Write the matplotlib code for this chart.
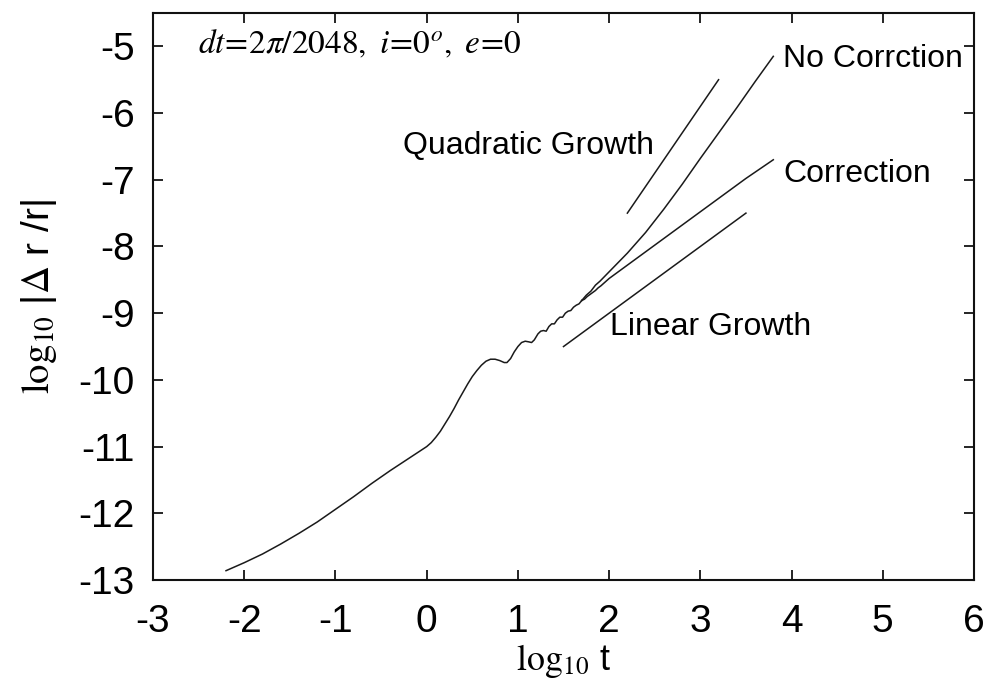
import matplotlib
matplotlib.use("Agg")
import matplotlib.pyplot as plt

# ---- data ----
# shared early part of the error curve (log10 t, log10 |dr/r|)
base_x = [-2.2, -2.0, -1.8, -1.6, -1.4, -1.2, -1.0, -0.8, -0.6, -0.4, -0.2, 0.0,
          0.05, 0.10, 0.15, 0.20, 0.25, 0.30, 0.35, 0.40, 0.45, 0.50, 0.55,
          0.60, 0.65, 0.70, 0.75, 0.80, 0.85, 0.88, 0.92, 0.96, 1.00, 1.04,
          1.08, 1.12, 1.15, 1.18, 1.22, 1.25, 1.28, 1.31, 1.34, 1.37, 1.40,
          1.43, 1.46, 1.49, 1.52, 1.55, 1.58, 1.61, 1.64, 1.67, 1.70]
base_y = [-12.86, -12.74, -12.61, -12.46, -12.30, -12.13, -11.94, -11.75, -11.55,
          -11.36, -11.18, -11.00,
          -10.94, -10.86, -10.77, -10.66, -10.55, -10.43, -10.30, -10.18, -10.06,
          -9.95, -9.86, -9.78, -9.72, -9.69, -9.69, -9.71, -9.74, -9.74, -9.68,
          -9.58, -9.50, -9.44, -9.42, -9.43, -9.44, -9.40, -9.31, -9.27, -9.26,
          -9.27, -9.20, -9.16, -9.16, -9.10, -9.06, -9.06, -9.00, -8.97, -8.96,
          -8.91, -8.88, -8.86, -8.81]

# branch without correction
nocorr_x = [1.70, 1.75, 1.80, 1.85, 1.90, 2.0, 2.2, 2.4, 2.6, 2.8, 3.0, 3.2,
            3.4, 3.6, 3.8]
nocorr_y = [-8.81, -8.73, -8.67, -8.58, -8.52, -8.38, -8.10, -7.79, -7.44,
            -7.07, -6.68, -6.30, -5.92, -5.53, -5.15]

# branch with correction
corr_x = [1.70, 1.73, 1.76, 1.79, 1.82, 1.85, 1.88, 1.91, 2.0, 2.5, 3.0, 3.5, 3.8]
corr_y = [-8.81, -8.79, -8.75, -8.72, -8.69, -8.66, -8.62, -8.59, -8.48,
          -7.98, -7.48, -6.98, -6.70]

# reference slopes
quad_x = [2.2, 3.2]
quad_y = [-7.5, -5.5]
lin_x = [1.5, 3.5]
lin_y = [-9.5, -7.5]

xticks = [-3, -2, -1, 0, 1, 2, 3, 4, 5, 6]
yticks = [-13, -12, -11, -10, -9, -8, -7, -6, -5]

# ---- figure ----
plt.rcParams['font.family'] = ['Liberation Sans', 'DejaVu Sans']
plt.rcParams['mathtext.fontset'] = 'stix'

fig = plt.figure(figsize=(9.88, 6.91), dpi=100)
ax = fig.add_axes([0.1549, 0.1606, 0.8309, 0.8206])

lc = '#1a1a1a'
lw = 1.1
ax.plot(base_x, base_y, color=lc, lw=lw)
ax.plot(nocorr_x, nocorr_y, color=lc, lw=lw)
ax.plot(corr_x, corr_y, color=lc, lw=lw)
ax.plot(quad_x, quad_y, color=lc, lw=lw)
ax.plot(lin_x, lin_y, color=lc, lw=lw)

ax.set_xlim(-3, 6)
ax.set_ylim(-13, -4.5)
ax.set_xticks(xticks)
ax.set_yticks(yticks)
ax.set_xticklabels([str(v) for v in xticks])
ax.set_yticklabels([str(v) for v in yticks])

ax.tick_params(direction='in', length=7, width=1.2, top=True, right=True,
               labelsize=28, pad=13, colors='black')
ax.tick_params(axis='x', pad=17)
for s in ax.spines.values():
    s.set_linewidth(1.5)
    s.set_color('#111111')

ax.set_xlabel(r'$\mathrm{log}_{10}$ t', fontsize=26, labelpad=2)
ax.set_ylabel(r'$\mathrm{log}_{10}$ |$\Delta$ r /r|', fontsize=28, labelpad=14)

ax.text(-2.51, -4.97, r'$dt\!=\!2\pi/2048,\ i\!=\!0^o,\ e\!=\!0$', fontsize=24,
        va='center', ha='left')
ax.text(3.91, -5.19, 'No Corrction', fontsize=23, va='center', ha='left')
ax.text(-0.26, -6.50, 'Quadratic Growth', fontsize=23, va='center', ha='left')
ax.text(3.91, -6.92, 'Correction', fontsize=23, va='center', ha='left')
ax.text(2.01, -9.20, 'Linear Growth', fontsize=23, va='center', ha='left')

fig.savefig('out.png', dpi=100)
